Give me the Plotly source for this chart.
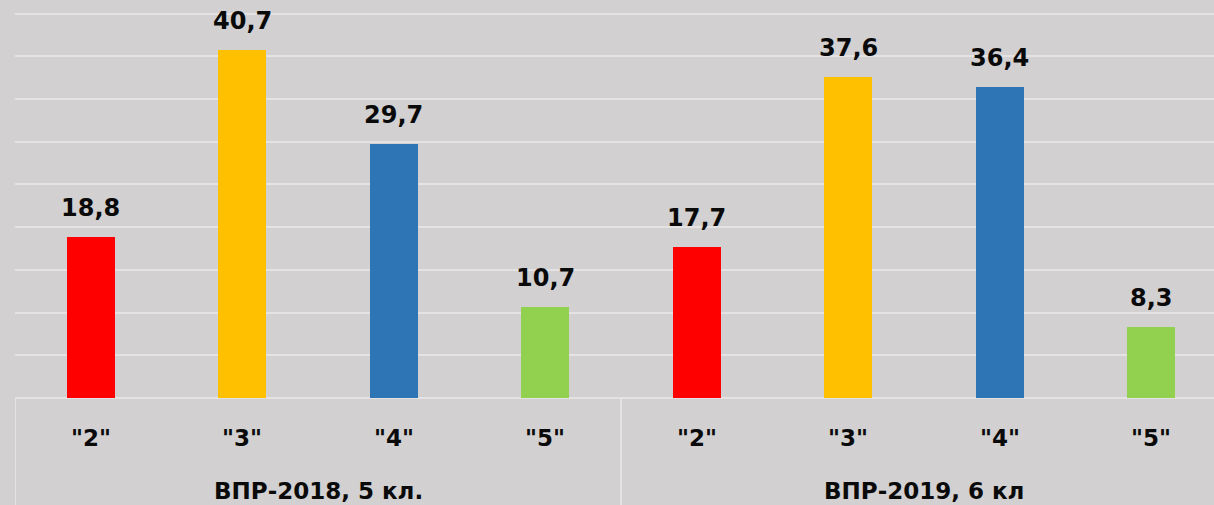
import plotly.graph_objects as go

groups = ["ВПР-2018, 5 кл.", "ВПР-2019, 6 кл"]
grades = ['"2"', '"3"', '"4"', '"5"']
values_2018 = [18.8, 40.7, 29.7, 10.7]
values_2019 = [17.7, 37.6, 36.4, 8.3]
colors = ["#FF0000", "#FFC000", "#2E75B6", "#92D050"]

series = [values_2018, values_2019]
n = len(grades)

xs, ys, cs, labels = [], [], [], []
for gi, vals in enumerate(series):
    for k, v in enumerate(vals):
        xs.append(gi * n + k)
        ys.append(v)
        cs.append(colors[k])
        labels.append(grades[k])

BG = "#d2d0d1"
GRID = "#e4e2e3"
FONT = dict(family="DejaVu Sans", weight="bold", color="#0a0a0a")

fig = go.Figure()
fig.add_trace(go.Bar(x=xs, y=ys, marker=dict(color=cs, line=dict(width=0)),
                     width=0.317, hoverinfo="skip", showlegend=False))

annotations = []
for x, v in zip(xs, ys):
    annotations.append(dict(x=x, y=v, xref="x", yref="y", text=f"{v:.1f}".replace(".", ","),
                            showarrow=False, yanchor="bottom", yshift=13,
                            font=dict(size=24, **FONT)))
for x, lab in zip(xs, labels):
    annotations.append(dict(x=x, y=0, xref="x", yref="paper", text=lab, showarrow=False,
                            yanchor="middle", yshift=-40, font=dict(size=23, **FONT)))
shapes = []
for gi, g in enumerate(groups):
    center = gi * n + (n - 1) / 2
    annotations.append(dict(x=center, y=0, xref="x", yref="paper", text=g, showarrow=False,
                            yanchor="middle", yshift=-93, font=dict(size=23, **FONT)))
    shapes.append(dict(type="line", xref="x", yref="paper", x0=gi * n - 0.5, x1=gi * n - 0.5,
                       y0=0, y1=-0.3, line=dict(color=GRID, width=2)))

fig.update_layout(
    width=1214, height=505,
    margin=dict(l=15, r=0, t=0, b=107),
    paper_bgcolor=BG, plot_bgcolor=BG,
    bargap=0,
    xaxis=dict(range=[-0.5, 7.414], showticklabels=False, showgrid=False, zeroline=False,
               showline=False, fixedrange=True),
    yaxis=dict(range=[0, 46.6], dtick=5, showticklabels=False, showgrid=True, gridcolor=GRID,
               gridwidth=2, zeroline=True, zerolinecolor=GRID, zerolinewidth=2, fixedrange=True),
    annotations=annotations,
    shapes=shapes,
)

fig.write_html("out.html", config={"displayModeBar": False},
               post_script="document.body.style.margin='0';document.body.style.overflow='hidden';")
